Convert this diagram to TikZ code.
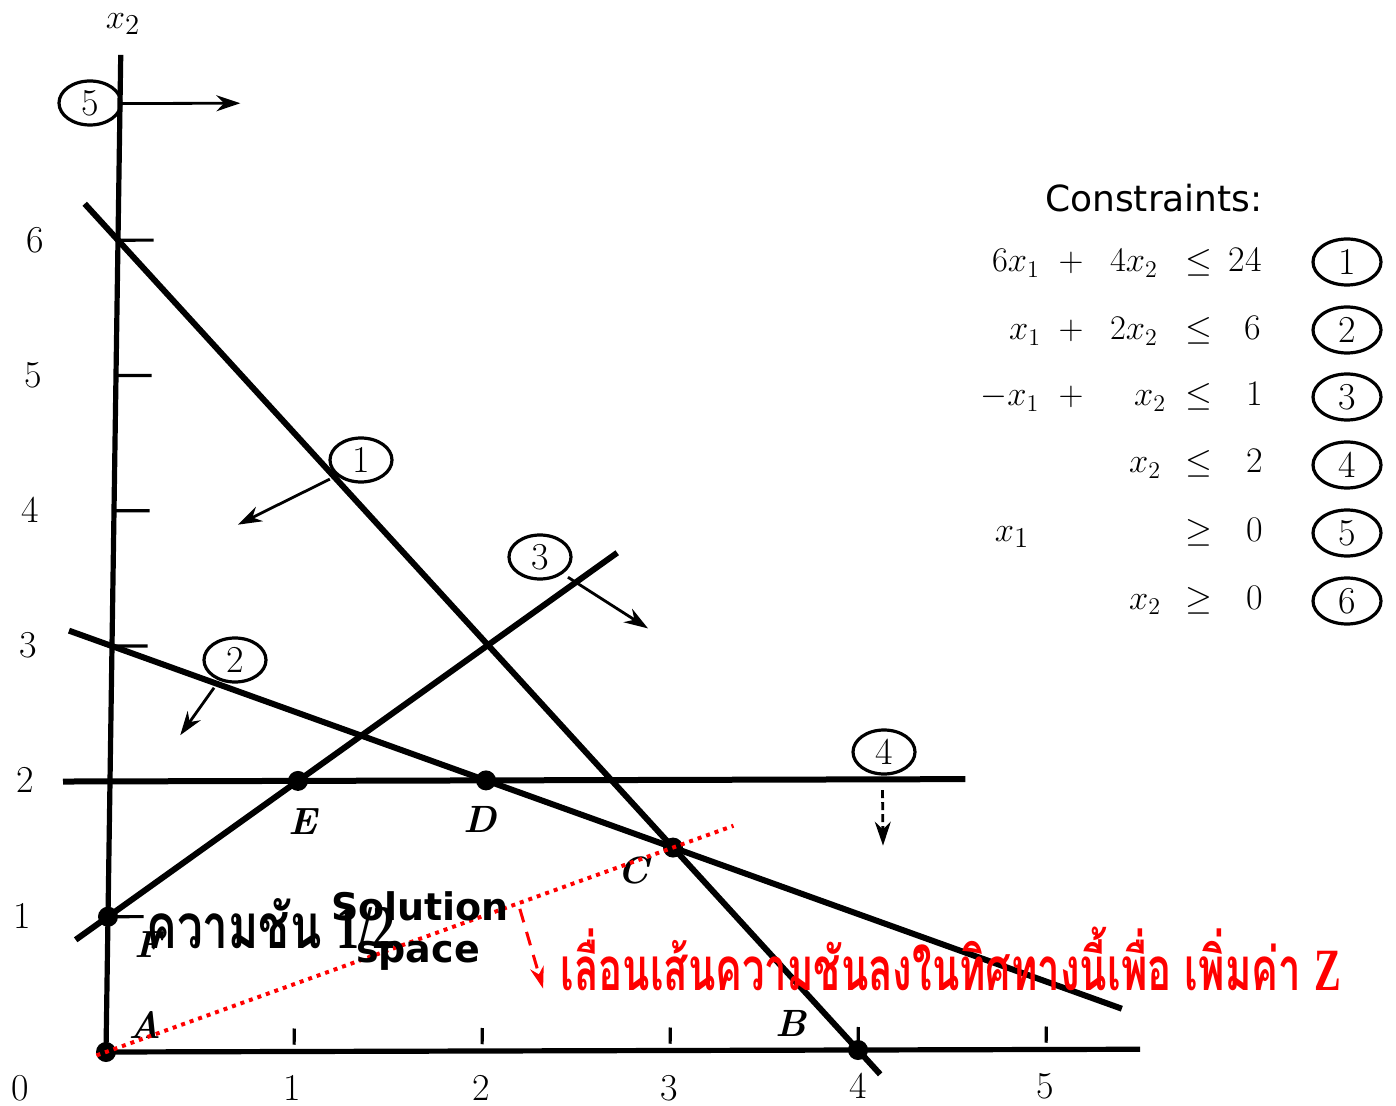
\documentclass[tikz,border=0pt]{standalone}
\usepackage{fontspec}
\newfontfamily\thaifont[Script=Thai]{Loma}
\newfontfamily\timesfont{Liberation Serif}
\newfontfamily\dvsans{DejaVu Sans}
\usetikzlibrary{arrows.meta,shapes.geometric}
\begin{document}
\begin{tikzpicture}[x=0.5pt,y=-0.5pt,
  cline/.style={line width=3pt},
  axisline/.style={line width=2.6pt},
  tickline/.style={line width=1.6pt},
  dirarrow/.style={line width=1.4pt,-{Stealth[length=12pt,width=8pt]}},
  circlab/.style={draw,ellipse,line width=1.6pt,minimum width=31pt,minimum height=22pt,inner sep=0pt,font=\fontsize{19}{19}\selectfont},
  conslab/.style={circlab,minimum width=34pt,minimum height=23pt},
  vertex/.style={circle,fill,inner sep=0pt,minimum size=10pt},
  vlab/.style={font=\fontsize{19}{19}\selectfont\bfseries\itshape},
  axnum/.style={font=\fontsize{19}{19}\selectfont},
  eq/.style={anchor=base,font=\fontsize{18}{18}\selectfont},
  redhint/.style={red,line width=2pt,dash pattern=on 2pt off 2.5pt},
]
\useasboundingbox (0,0) rectangle (1396,1106);
\fill[white] (0,0) rectangle (1396,1106);

% ---------- graph in data coordinates ----------
\begin{scope}[shift={(106,1052)},x={(94pt,0.25pt)},y={(1pt,67.65pt)}]
  \coordinate (O) at (0,0);
  \coordinate (Xend) at (5.5,0);
  \coordinate (Yend) at (0,7.37);
  \draw[axisline] (O) -- (Xend);
  \draw[axisline] (O) -- (Yend);
  \foreach \v in {1,...,6} \draw[tickline] (0,\v) -- (0.19,\v);
  \foreach \u in {1,...,5} \draw[tickline] (\u,0.05) -- (\u,0.17);

  % constraint lines
  \coordinate (L1a) at (-0.18,6.27);  \coordinate (L1b) at (4.12,-0.18);
  \coordinate (L2a) at (-0.23,3.115); \coordinate (L2b) at (5.4,0.3);
  \coordinate (L3a) at (-0.17,0.83);  \coordinate (L3b) at (2.68,3.68);
  \coordinate (L4a) at (-0.25,2);     \coordinate (L4b) at (4.55,2);
  \draw[cline] (L1a) -- (L1b);
  \draw[cline] (L2a) -- (L2b);
  \draw[cline] (L3a) -- (L3b);
  \draw[cline] (L4a) -- (L4b);

  % corner points
  \node[vertex] (A) at (0,0) {};
  \node[vertex] (F) at (0,1) {};
  \node[vertex] (E) at (1,2) {};
  \node[vertex] (D) at (2,2) {};
  \node[vertex] (C) at (3,1.5) {};
  \node[vertex] (B) at (4,0) {};
  \node[vlab] (Alab) at (0.205,0.2) {A};
  \node[vlab] (Flab) at (0.215,0.79) {F};
  \node[vlab] (Elab) at (1.03,1.70) {E};
  \node[vlab] (Dlab) at (1.97,1.715) {D};
  \node[vlab] (Clab) at (2.79,1.33) {C};
  \node[vlab] (Blab) at (3.64,0.2) {B};

  % direction arrows
  \coordinate (a1s) at (1.146,4.23); \coordinate (a1e) at (0.66,3.895);
  \coordinate (a2s) at (0.546,2.69); \coordinate (a2e) at (0.37,2.34);
  \coordinate (a3s) at (2.42,3.50);  \coordinate (a3e) at (2.85,3.12);
  \coordinate (a4s) at (4.11,1.92);  \coordinate (a4e) at (4.117,1.51);
  \coordinate (a5s) at (0.01,7.01);  \coordinate (a5e) at (0.64,7.01);
  \draw[dirarrow] (a1s) -- (a1e);
  \draw[dirarrow] (a2s) -- (a2e);
  \draw[dirarrow] (a3s) -- (a3e);
  \draw[dirarrow,dash pattern=on 4pt off 2pt] (a4s) -- (a4e);
  \draw[dirarrow] (a5s) -- (a5e);

  % iso-profit line and its direction
  \coordinate (Z0) at (-0.05,-0.025); \coordinate (Z1) at (3.32,1.66);
  \draw[redhint] (Z0) -- (Z1);
  \coordinate (m0) at (2.19,1.05); \coordinate (m1) at (2.32,0.46);
  \draw[red,line width=1.5pt,dash pattern=on 7pt off 5pt,-{Stealth[length=11pt,width=7pt]}] (m0) -- (m1);
\end{scope}

% ---------- circled constraint labels on the graph ----------
\node[circlab] (c5) at (90,103) {5};
\node[circlab] (c1) at (361,460) {1};
\node[circlab] (c3) at (540,557) {3};
\node[circlab] (c2) at (235,660) {2};
\node[circlab] (c4) at (884,752) {4};

% ---------- axis numbers ----------
\node[axnum] (y6) at (35,240) {6};
\node[axnum] (y5) at (33,375) {5};
\node[axnum] (y4) at (30,510) {4};
\node[axnum] (y3) at (28,645) {3};
\node[axnum] (y2) at (25,780) {2};
\node[axnum] (y1) at (22,916) {1};
\node[axnum] (y0) at (20,1088) {0};
\node[axnum] (x1n) at (292,1088) {1};
\node[axnum] (x2n) at (481,1088) {2};
\node[axnum] (x3n) at (669,1088) {3};
\node[axnum] (x4n) at (858,1086) {4};
\node[axnum] (x5n) at (1045,1086) {5};
\node[axnum,inner sep=0pt] (x2lab) at (123,24) {$x_2$};

% ---------- solution space ----------
\node[anchor=base,font=\dvsans\bfseries\fontsize{19}{19}\selectfont] (sol1) at (420,920) {Solution};
\node[anchor=base,font=\dvsans\bfseries\fontsize{19}{19}\selectfont] (sol2) at (418,962) {space};

% ---------- Thai annotations ----------
\node[anchor=base west,inner sep=0pt] (slope) at (146,948)
  {\scalebox{0.74}[1]{\fontsize{31}{31}\selectfont\thaifont\bfseries ความชัน {\timesfont\bfseries 1/2}}};
\node[anchor=base west,inner sep=0pt,text=red] (hint) at (560,990)
  {\scalebox{0.668}[1]{\fontsize{30}{30}\selectfont\thaifont\bfseries เลื่อนเส้นความชันลงในทิศทางนี้เพื่อ เพิ่มค่า {\timesfont\bfseries Z}}};

% ---------- constraints list ----------
\node[anchor=base,font=\dvsans\fontsize{18}{18}\selectfont] (ctitle) at (1154,212) {Constraints:};
\node[eq] (r1a) at (1016,272) {$6x_1$};
\node[eq] (r1b) at (1071,272) {$+$};
\node[eq] (r1c) at (1134,272) {$4x_2$};
\node[eq] (r1d) at (1199,272) {$\leq$};
\node[eq] (r1e) at (1245,272) {24};
\node[eq] (r2a) at (1025,340) {$x_1$};
\node[eq] (r2b) at (1071,340) {$+$};
\node[eq] (r2c) at (1134,340) {$2x_2$};
\node[eq] (r2d) at (1199,340) {$\leq$};
\node[eq] (r2e) at (1253,340) {6};
\node[eq] (r3a) at (1010,406) {$-x_1$};
\node[eq] (r3b) at (1071,406) {$+$};
\node[eq] (r3c) at (1150,406) {$x_2$};
\node[eq] (r3d) at (1199,406) {$\leq$};
\node[eq] (r3e) at (1255,406) {1};
\node[eq] (r4c) at (1145,473) {$x_2$};
\node[eq] (r4d) at (1199,473) {$\leq$};
\node[eq] (r4e) at (1255,473) {2};
\node[eq,font=\fontsize{19}{19}\selectfont] (r5a) at (1012,541) {$x_1$};
\node[eq] (r5d) at (1199,541) {$\geq$};
\node[eq] (r5e) at (1255,541) {0};
\node[eq] (r6c) at (1145,609) {$x_2$};
\node[eq] (r6d) at (1199,609) {$\geq$};
\node[eq] (r6e) at (1255,609) {0};
\node[conslab] (k1) at (1347,262) {1};
\node[conslab] (k2) at (1347,330) {2};
\node[conslab] (k3) at (1347,397) {3};
\node[conslab] (k4) at (1347,465) {4};
\node[conslab] (k5) at (1347,533) {5};
\node[conslab] (k6) at (1347,601) {6};
\end{tikzpicture}
\end{document}
